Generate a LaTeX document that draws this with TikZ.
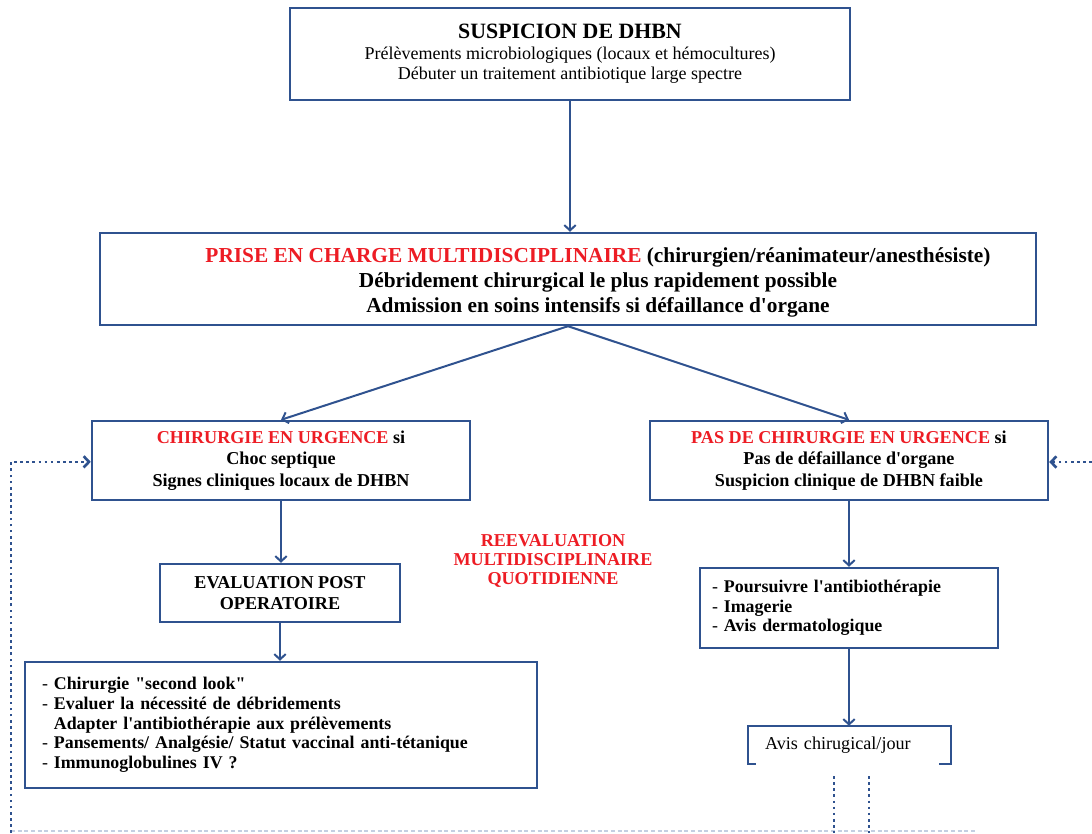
\documentclass[tikz,border=0pt]{standalone}
\usepackage{fontspec}
\setmainfont{Liberation Serif}[Ligatures=TeXOff]
\usetikzlibrary{arrows.meta}
\definecolor{boxblue}{RGB}{47,82,143}
\definecolor{alertred}{RGB}{237,28,36}
\definecolor{faintblue}{RGB}{196,207,226}
\newcommand{\urg}[1]{\textcolor{alertred}{#1}}

\begin{document}
\begin{tikzpicture}[x=0.75pt,y=-0.75pt,
  box/.style={draw=boxblue,line width=1.8pt,fill=white,align=center,inner sep=0pt},
  bfbox/.style={box,font=\fontsize{13.6}{16}\selectfont\bfseries},
  listbox/.style={box,align=left,font=\fontsize{13.4}{14.8}\selectfont},
  link/.style={draw=boxblue,line width=1.5pt,-{Straight Barb[length=4pt,width=8.5pt]}},
  backlink/.style={draw=boxblue,line width=2pt,dash pattern=on 2pt off 2.6pt},
  faintline/.style={draw=faintblue,line width=1.2pt,dash pattern=on 3pt off 2pt}]

\useasboundingbox (0,0) rectangle (1092,833);

\node[box,minimum width=420pt,minimum height=69pt,font=\fontsize{13.5}{15.5}\selectfont] (suspicion) at (570,54)
  {{\fontsize{16.4}{18}\selectfont\bfseries SUSPICION DE DHBN}\\
   Prélèvements microbiologiques (locaux et hémocultures)\\
   Débuter un traitement antibiotique large spectre};

\node[box,minimum width=702pt,minimum height=69pt] (prise) at (568,279) {};
\node[align=center,inner sep=0pt,font=\fontsize{16}{18.75}\selectfont\bfseries] (prisetext) at (598,282)
  {\urg{PRISE EN CHARGE MULTIDISCIPLINAIRE} (chirurgien/réanimateur/anesthésiste)\\
   Débridement chirurgical le plus rapidement possible\\
   Admission en soins intensifs si défaillance d'organe};

\node[bfbox,minimum width=283.5pt,minimum height=59.25pt] (chir) at (281,460.5)
  {\urg{CHIRURGIE EN URGENCE} si\\Choc septique\\Signes cliniques locaux de DHBN};

\node[bfbox,minimum width=298.5pt,minimum height=59.25pt] (nochir) at (849,460.5)
  {\urg{PAS DE CHIRURGIE EN URGENCE} si\\Pas de défaillance d'organe\\Suspicion clinique de DHBN faible};

\node[bfbox,minimum width=180pt,minimum height=43.5pt] (postop) at (280,593)
  {EVALUATION POST\\OPERATOIRE};

\node[listbox,minimum width=384pt,minimum height=94.5pt,text width=358.5pt] (suivi) at (281,725)
  {- \textbf{Chirurgie "second look"}\\
   - \textbf{Evaluer la nécessité de débridements}\\
   \phantom{- }\textbf{Adapter l'antibiothérapie aux prélèvements}\\
   - \textbf{Pansements/ Analgésie/ Statut vaccinal anti-tétanique}\\
   - \textbf{Immunoglobulines IV ?}};

\node[listbox,minimum width=223.5pt,minimum height=60pt,text width=205.5pt] (medical) at (849,608)
  {- \textbf{Poursuivre l'antibiothérapie}\\
   - \textbf{Imagerie}\\
   - \textbf{Avis dermatologique}};

\node[box,draw=none,align=left,minimum width=150.75pt,minimum height=27pt,text width=126.75pt,
  font=\fontsize{13.6}{15}\selectfont] (avis) at (849.5,745) {Avis chirugical/jour};
\draw[boxblue,line width=1.8pt] ([xshift=6pt]avis.south west) -- (avis.south west) -- (avis.north west)
  -- (avis.north east) -- (avis.south east) -- ([xshift=-9.5pt]avis.south east);

\node[text=alertred,align=center,font=\fontsize{13.6}{14}\selectfont\bfseries] (reeval) at (553,561)
  {REEVALUATION\\MULTIDISCIPLINAIRE\\QUOTIDIENNE};

\draw[link] (suspicion.south) -- (suspicion.south |- prise.north);
\draw[link] (prise.south) -- (chir.north);
\draw[link] (prise.south) -- (nochir.north);
\draw[link] (chir.south) -- (chir.south |- postop.north);
\draw[link] (postop.south) -- (postop.south |- suivi.north);
\draw[link] (nochir.south) -- (nochir.south |- medical.north);
\draw[link] (medical.south) -- (medical.south |- avis.north);

\coordinate (leftfoot) at (11,833);
\coordinate (rightend) at (1092,462);
\coordinate (dropa) at (834,776);
\coordinate (dropb) at (869,776);
\coordinate (faintl) at (11,831);
\coordinate (faintr) at (975,831);

\draw[faintline] (faintl) -- (faintr);
\draw[backlink,-{Straight Barb[length=4pt,width=8.5pt]}] (leftfoot) |- ([yshift=-1pt]chir.west);
\draw[backlink,-{Straight Barb[length=4pt,width=8.5pt]}] (rightend) -- (nochir.east |- rightend);
\draw[backlink] (dropa) -- (dropa |- leftfoot);
\draw[backlink] (dropb) -- (dropb |- leftfoot);
\end{tikzpicture}
\end{document}
